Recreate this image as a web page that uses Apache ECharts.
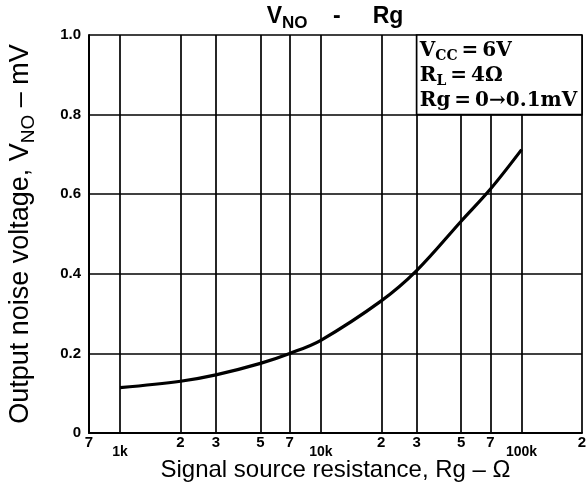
<!DOCTYPE html>
<html>
<head>
<meta charset="utf-8">
<script src="https://cdn.jsdelivr.net/npm/echarts@6/dist/echarts.min.js"></script>
<style>html,body{margin:0;padding:0;background:#fff}#c{width:587px;height:484px}</style>
</head>
<body>
<div id="c"></div>
<script>
// Data
const resistance = [1000, 2000, 3000, 5000, 7000, 10000, 20000, 30000, 50000, 70000, 100000];
const noiseVoltage = [0.114, 0.13, 0.146, 0.175, 0.2, 0.233, 0.332, 0.408, 0.532, 0.613, 0.712];
const xTickValues = [700, 1000, 2000, 3000, 5000, 7000, 10000, 20000, 30000, 50000, 70000, 100000, 200000];
const xTickLabels = ['7', '1k', '2', '3', '5', '7', '10k', '2', '3', '5', '7', '100k', '2'];
const yTickValues = [0, 0.2, 0.4, 0.6, 0.8, 1.0];
const yTickLabels = ['0', '0.2', '0.4', '0.6', '0.8', '1.0'];
const conditionBox = { x0: 30000, x1: 200000, y0: 0.8, y1: 1.0 };

const chart = echarts.init(document.getElementById('c'));
const sans = 'Liberation Sans, Arial, sans-serif';
const serif = 'DejaVu Serif, Liberation Serif, serif';

chart.setOption({
  backgroundColor: '#fff',
  animation: false,
  title: {
    text: '{a|V}{s|NO}{a|    -     Rg}',
    left: 335,
    textAlign: 'center',
    top: 2,
    padding: 0,
    textStyle: {
      rich: {
        a: { fontFamily: sans, fontWeight: 'bold', fontSize: 23, color: '#000', lineHeight: 30 },
        s: { fontFamily: sans, fontWeight: 'bold', fontSize: 17, color: '#000', lineHeight: 20, verticalAlign: 'bottom' }
      }
    }
  },
  grid: { left: 89, right: 5, top: 35, bottom: 51, containLabel: false, outerBoundsMode: 'none' },
  xAxis: {
    type: 'log',
    logBase: 10,
    min: 700,
    max: 200000,
    name: 'Signal source resistance, Rg \u2013 \u03A9',
    nameLocation: 'middle',
    nameGap: 24,
    nameMoveOverlap: false,
    nameTextStyle: { fontFamily: sans, fontSize: 24, lineHeight: 26, color: '#000' },
    axisLine: { show: true, lineStyle: { color: '#000', width: 2 } },
    axisTick: { show: true, length: 0, customValues: xTickValues },
    splitLine: { show: true, lineStyle: { color: '#000', width: 1.7 } },
    minorSplitLine: { show: false },
    axisLabel: {
      customValues: xTickValues,
      margin: 2,
      formatter: function (v) {
        let idx = -1;
        for (let i = 0; i < xTickValues.length; i++) {
          if (Math.abs(xTickValues[i] - v) / xTickValues[i] < 1e-6) { idx = i; break; }
        }
        const t = idx >= 0 ? xTickLabels[idx] : '';
        return t.indexOf('k') >= 0 ? '{k|' + t + '}' : '{d|' + t + '}';
      },
      rich: {
        d: { fontFamily: sans, fontWeight: 'bold', fontSize: 15, color: '#000' },
        k: { fontFamily: sans, fontWeight: 'bold', fontSize: 14, color: '#000', padding: [10, 0, 0, 0] }
      }
    }
  },
  yAxis: {
    type: 'value',
    min: 0,
    max: 1,
    interval: 0.2,
    name: '{a|Output noise voltage, V}{s|NO}{a| \u2013 mV}',
    nameLocation: 'middle',
    nameGap: 51,
    nameMoveOverlap: false,
    nameTextStyle: {
      rich: {
        a: { fontFamily: sans, fontSize: 27, color: '#000', lineHeight: 34 },
        s: { fontFamily: sans, fontSize: 19, color: '#000', lineHeight: 24, verticalAlign: 'bottom' }
      }
    },
    axisLine: { show: true, lineStyle: { color: '#000', width: 2 } },
    axisTick: { show: false },
    splitLine: { show: true, lineStyle: { color: '#000', width: 1.7 } },
    axisLabel: {
      margin: 8,
      fontFamily: sans,
      fontWeight: 'bold',
      fontSize: 15,
      color: '#000',
      formatter: function (v) {
        for (let i = 0; i < yTickValues.length; i++) {
          if (Math.abs(yTickValues[i] - v) < 1e-9) return yTickLabels[i];
        }
        return '';
      }
    }
  },
  series: [{
    type: 'line',
    data: resistance.map((r, i) => [r, noiseVoltage[i]]),
    smooth: 0.35,
    symbol: 'none',
    lineStyle: { color: '#000', width: 3.2 },
    markArea: {
      silent: true,
      itemStyle: { color: '#fff', borderColor: '#000', borderWidth: 1.7 },
      label: {
        show: true,
        position: 'insideTopLeft',
        distance: 4,
        formatter: '{m|V}{s|CC}{m|\u2009=\u20096V}\n{m|R}{s|L}{m|\u2009=\u20094\u03A9}\n{m|Rg\u2009=\u20090\u21920.1mV}',
        rich: {
          m: { fontFamily: serif, fontWeight: 'bold', fontSize: 20, color: '#000', lineHeight: 25 },
          s: { fontFamily: serif, fontWeight: 'bold', fontSize: 14, color: '#000', lineHeight: 15, verticalAlign: 'bottom' }
        }
      },
      data: [[
        { coord: [conditionBox.x0, conditionBox.y1] },
        { coord: [conditionBox.x1, conditionBox.y0] }
      ]]
    }
  }]
});
</script>
</body>
</html>
